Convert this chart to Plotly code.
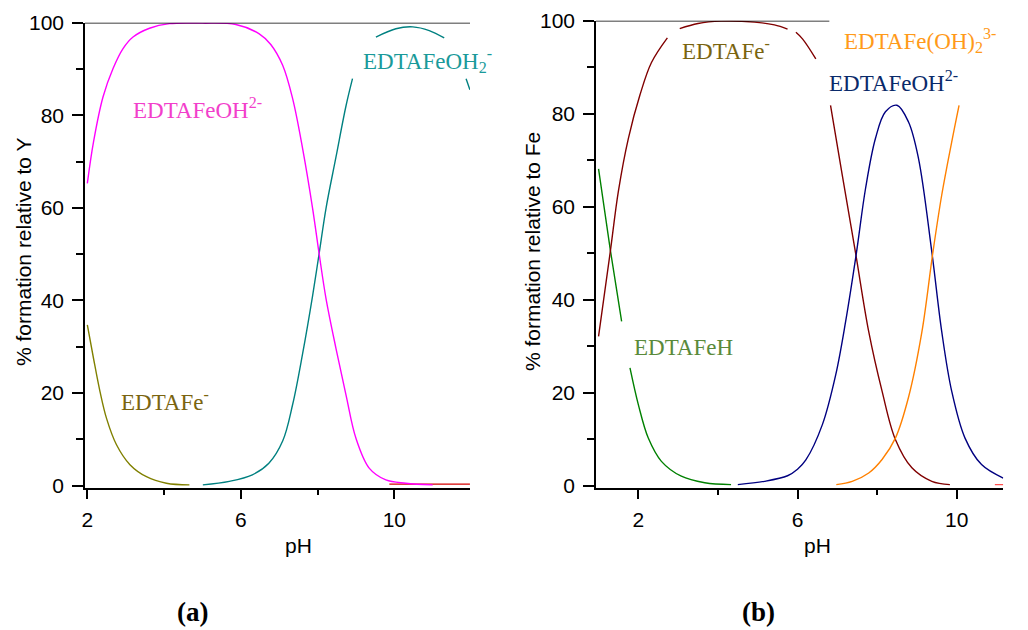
import plotly.graph_objects as go

# ---------------- Panel (a): % formation relative to Y ----------------
ph_a_fe = [2.0, 2.16, 2.33, 2.5, 2.76, 3.11, 3.54, 4.06, 4.66]
edtafe_a = [34.7, 27.5, 20.3, 14.5, 8.8, 4.5, 1.9, 0.5, 0.14]

ph_a_feoh = [2.0, 2.16, 2.41, 2.67, 2.93, 3.19, 3.62, 4.14, 5.0, 5.87, 6.48, 6.78,
             7.09, 7.35, 7.61, 7.87, 8.04, 8.22, 8.48, 8.74, 9.0, 9.35, 9.78, 10.3, 11.0]
edtafeoh_a = [65.3, 74.2, 84.0, 90.1, 94.4, 96.9, 98.8, 99.8, 99.9, 99.6, 97.6, 95.3,
              90.8, 83.6, 72.8, 59.9, 50.1, 40.4, 29.6, 19.6, 10.2, 3.7, 1.2, 0.5, 0.14]

ph_a_feoh2 = [5.01, 5.7, 6.3, 6.73, 7.09, 7.35, 7.61, 7.87, 8.04, 8.22, 8.48, 8.74, 8.91,
              9.2, 9.52, 10.04, 10.48, 10.91, 11.3, 11.6, 11.87, 11.97]
edtafeoh2_a = [0.14, 0.9, 2.3, 4.8, 9.6, 17.5, 28.5, 41.0, 50.1, 59.9, 71.0, 82.0, 87.9,
               None, 96.9, 98.7, 99.1, 98.3, 96.7, None, 87.9, 85.5]

ph_a_red = [9.87, 10.5, 11.0, 11.5, 11.97]
red_a = [0.3, 0.3, 0.3, 0.3, 0.3]

# ---------------- Panel (b): % formation relative to Fe ----------------
ph_b_feh = [1.0, 1.29, 1.58, 1.7, 1.79, 2.0, 2.25, 2.58, 3.08, 3.67, 4.33]
edtafeh_b = [68.1, 51.0, 35.3, None, 25.3, 17.4, 10.2, 5.2, 2.0, 0.6, 0.2]

ph_b_fe = [1.0, 1.29, 1.5, 1.75, 2.04, 2.33, 2.73, 2.9, 3.04, 3.5, 4.08, 4.92, 5.42, 5.75,
           5.85, 5.96, 6.125, 6.46, 6.6, 6.83, 7.125, 7.46, 7.79, 8.125, 8.46, 8.875, 9.375, 9.83]
edtafe_b = [32.1, 50.0, 63.4, 74.7, 84.0, 91.0, 96.3, None, 98.3, 99.4, 99.9, 99.7, 99.1, 98.2,
            None, 97.5, 96.1, 91.8, None, 81.8, 66.8, 50.0, 33.1, 20.3, 9.9, 3.8, 0.9, 0.2]

ph_b_feoh = [4.5, 5.17, 5.75, 6.0, 6.21, 6.625, 6.96, 7.21, 7.48, 7.71, 7.96, 8.21, 8.5,
             8.79, 9.04, 9.375, 9.625, 9.875, 10.21, 10.625, 11.17]
edtafeoh_b = [0.2, 0.9, 2.1, 3.5, 5.5, 13.1, 23.8, 35.3, 50.0, 63.9, 74.7, 80.4, 81.8,
              78.2, 70.4, 50.3, 33.1, 20.3, 10.2, 4.5, 1.6]

ph_b_feoh2 = [6.975, 7.375, 7.79, 8.125, 8.46, 8.79, 9.125, 9.4, 9.625, 9.875, 10.06]
edtafeoh2_b = [0.2, 0.9, 2.7, 5.6, 10.2, 19.0, 33.0, 50.0, 62.5, 73.9, 81.8]

ph_b_red = [10.96, 11.17]
red_b = [0.2, 0.2]

x_ticks = [2, 6, 10]
x_minor = [4, 8]
y_ticks = [0, 20, 40, 60, 80, 100]
y_minor = [10, 30, 50, 70, 90]

W, H = 1028, 630


def px_x(p):
    return p / W


def px_y(p):
    return 1 - p / H


fig = go.Figure()


def add_line(x, y, color, xa, ya):
    fig.add_trace(go.Scatter(x=x, y=y, mode="lines", xaxis=xa, yaxis=ya,
                             line=dict(color=color, width=1.4, shape="spline", smoothing=1.0),
                             connectgaps=False, showlegend=False, hoverinfo="skip"))


add_line(ph_a_red, red_a, "#D40000", "x", "y")
add_line(ph_a_fe, edtafe_a, "#808000", "x", "y")
add_line(ph_a_feoh2, edtafeoh2_a, "#008080", "x", "y")
add_line(ph_a_feoh, edtafeoh_a, "#FF00FF", "x", "y")

add_line(ph_b_red, red_b, "#FF5050", "x2", "y2")
add_line(ph_b_feh, edtafeh_b, "#008000", "x2", "y2")
add_line(ph_b_fe, edtafe_b, "#800000", "x2", "y2")
add_line(ph_b_feoh, edtafeoh_b, "#000080", "x2", "y2")
add_line(ph_b_feoh2, edtafeoh2_b, "#FF8000", "x2", "y2")

tickfont = dict(family="Liberation Sans, Arial", size=21, color="black")

xa_common = dict(showline=True, linecolor="black", linewidth=1.6, ticks="outside",
                 tickvals=x_ticks, ticklen=9, tickwidth=1.5, tickcolor="black",
                 tickfont=tickfont, showgrid=False, zeroline=False, automargin=False,
                 ticklabelstandoff=3,
                 minor=dict(tickvals=x_minor, ticklen=5, tickwidth=1.5, tickcolor="black",
                            ticks="outside", showgrid=False))
ya_common = dict(showline=True, linecolor="black", linewidth=1.6, ticks="outside",
                 tickvals=y_ticks, ticklen=11, tickwidth=1.5, tickcolor="black",
                 tickfont=tickfont, showgrid=False, zeroline=False, range=[-0.6, 100],
                 automargin=False, ticklabelstandoff=4,
                 minor=dict(tickvals=y_minor, ticklen=7, tickwidth=1.5, tickcolor="black",
                            ticks="outside", showgrid=False))

fig.update_layout(
    template="none",
    width=W, height=H, margin=dict(l=0, r=0, t=0, b=0, pad=0, autoexpand=False),
    paper_bgcolor="white", plot_bgcolor="white",
    xaxis=dict(domain=[px_x(85), px_x(470)], range=[1.939, 11.972], anchor="y", **xa_common),
    yaxis=dict(domain=[px_y(488.3), px_y(22.7)], anchor="x", **ya_common),
    xaxis2=dict(domain=[px_x(596), px_x(1003.3)], range=[0.936, 11.172], anchor="y2", **xa_common),
    yaxis2=dict(domain=[px_y(488.3), px_y(20.7)], anchor="x2", **ya_common),
)

# top frame lines
fig.add_shape(type="line", xref="x", yref="y", x0=1.939, x1=11.972, y0=100, y1=100,
              line=dict(color="black", width=1.8))
fig.add_shape(type="line", xref="x2", yref="y2", x0=0.936, x1=6.8, y0=100, y1=100,
              line=dict(color="black", width=1.8))

serif = "Liberation Serif, Times New Roman"
sans = "Liberation Sans, Arial"


def label(text, x, y, color, size=23, family=serif, xanchor="left", angle=0):
    fig.add_annotation(text=text, x=px_x(x), y=px_y(y), xref="paper", yref="paper",
                       xanchor=xanchor, yanchor="middle", showarrow=False, textangle=angle,
                       font=dict(family=family, size=size, color=color))


# species labels
label("EDTAFeOH<sup>2-</sup>", 131, 108, "#F23FCB")
label("EDTAFeOH<sub>2</sub><sup>-</sup>", 361, 60, "#1A9A9A")
label("EDTAFe<sup>-</sup>", 119, 400, "#7A6410")
label("EDTAFe<sup>-</sup>", 680, 50, "#7A6410")
label("EDTAFe(OH)<sub>2</sub><sup>3-</sup>", 842, 40, "#FF9A1A")
label("EDTAFeOH<sup>2-</sup>", 827, 82, "#0A2A6A")
label("EDTAFeH", 632, 347, "#5A8A3A")

# axis titles
label("pH", 298, 545, "black", size=21, family=sans, xanchor="center")
label("pH", 817, 545, "black", size=21, family=sans, xanchor="center")
label("% formation relative to Y", 23, 252, "black", size=21, family=sans, xanchor="center", angle=-90)
label("% formation relative to Fe", 532, 252, "black", size=21, family=sans, xanchor="center", angle=-90)

# panel letters
label("<b>(a)</b>", 192, 612, "black", size=27, xanchor="center")
label("<b>(b)</b>", 758, 612, "black", size=27, xanchor="center")

fig.write_html("out.html", config={"displayModeBar": False},
               post_script="document.body.style.margin='0';document.body.style.padding='0';")
